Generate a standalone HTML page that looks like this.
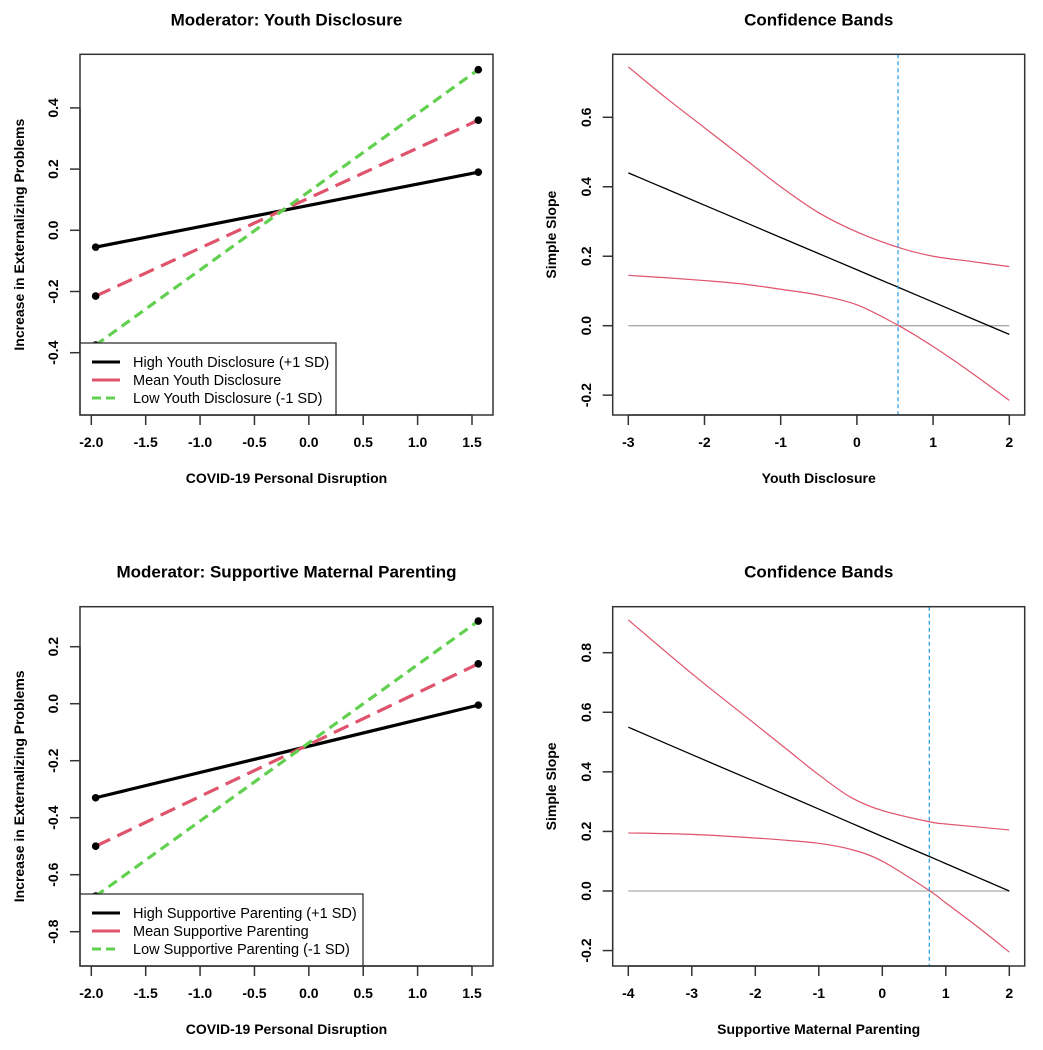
<!DOCTYPE html>
<html><head><meta charset="utf-8">
<style>
html,body{margin:0;padding:0;background:#fff;}
svg{display:block;font-family:"Liberation Sans",Arial,sans-serif;}
.t{font-weight:bold;font-size:17px;}
.tk{font-weight:bold;font-size:14px;}
.at{font-weight:bold;font-size:14px;}
.lg{font-size:14.5px;}
</style></head>
<body>
<svg id="c" width="1043" height="1050" viewBox="0 0 1043 1050" xmlns="http://www.w3.org/2000/svg"></svg>
<script>
// ---- Panel A (top-left) data ----
const aXTicks = [-2.0,-1.5,-1.0,-0.5,0.0,0.5,1.0,1.5];
const aYTicks = [-0.4,-0.2,0.0,0.2,0.4];
const aXEnds = [-1.96, 1.558];
const aHigh = [-0.055, 0.19];
const aMean = [-0.215, 0.36];
const aLow = [-0.375, 0.525];
const aLegend = ["High Youth Disclosure (+1 SD)","Mean Youth Disclosure","Low Youth Disclosure (-1 SD)"];
// ---- Panel B (top-right) data ----
const bXTicks = [-3,-2,-1,0,1,2];
const bYTicks = [-0.2,0.0,0.2,0.4,0.6];
const bX = [-3,-2.5,-2,-1.5,-1,-0.5,0,0.55,1,1.5,2];
const bSlope = [0.44,0.3935,0.347,0.3005,0.254,0.2075,0.161,0.110,0.068,0.0215,-0.025];
const bUpper = [0.745,0.655,0.57,0.485,0.40,0.325,0.27,0.225,0.20,0.185,0.17];
const bLower = [0.145,0.138,0.13,0.12,0.105,0.088,0.06,0.0,-0.06,-0.135,-0.215];
const bJN = 0.54;
// ---- Panel C (bottom-left) data ----
const cXTicks = [-2.0,-1.5,-1.0,-0.5,0.0,0.5,1.0,1.5];
const cYTicks = [-0.8,-0.6,-0.4,-0.2,0.0,0.2];
const cXEnds = [-1.96, 1.558];
const cHigh = [-0.33, -0.005];
const cMean = [-0.50, 0.14];
const cLow = [-0.675, 0.29];
const cLegend = ["High Supportive Parenting (+1 SD)","Mean Supportive Parenting","Low Supportive Parenting (-1 SD)"];
// ---- Panel D (bottom-right) data ----
const dXTicks = [-4,-3,-2,-1,0,1,2];
const dYTicks = [-0.2,0.0,0.2,0.4,0.6,0.8];
const dX = [-4,-3,-2,-1.5,-1,-0.5,0,0.75,1,1.5,2];
const dSlope = [0.55,0.458,0.367,0.321,0.275,0.229,0.183,0.115,0.092,0.046,0.0];
const dUpper = [0.91,0.73,0.56,0.475,0.39,0.315,0.27,0.232,0.225,0.215,0.205];
const dLower = [0.195,0.19,0.178,0.17,0.16,0.14,0.10,0.0,-0.04,-0.12,-0.205];
const dJN = 0.74;

const svg = document.getElementById('c');
const NS = 'http://www.w3.org/2000/svg';
function mk(tag, attrs, parent){
  const e = document.createElementNS(NS, tag);
  for (const k in attrs) e.setAttribute(k, attrs[k]);
  (parent||svg).appendChild(e);
  return e;
}
function lin(d0,d1,r0,r1){return v => r0 + (v-d0)*(r1-r0)/(d1-d0);}
function smoothPath(xs, ys){
  let d = 'M'+xs[0]+','+ys[0];
  for (let i=0;i<xs.length-1;i++){
    const x0=xs[Math.max(i-1,0)], y0=ys[Math.max(i-1,0)];
    const x1=xs[i], y1=ys[i], x2=xs[i+1], y2=ys[i+1];
    const x3=xs[Math.min(i+2,xs.length-1)], y3=ys[Math.min(i+2,xs.length-1)];
    d += ' C'+(x1+(x2-x0)/6)+','+(y1+(y2-y0)/6)+' '+(x2-(x3-x1)/6)+','+(y2-(y3-y1)/6)+' '+x2+','+y2;
  }
  return d;
}
function frame(g, box, xt, yt, sx, sy, xfmt, yfmt, title, xlab, ylab, ylabX, ytickX){
  const t = mk('text',{x:(box.l+box.r)/2,y:box.t-29,'text-anchor':'middle',class:'t'},g);
  t.textContent = title;
  
  
  const xa = mk('g',{},g);
  
  
  mk('line',{x1:sx(xt[0]),x2:sx(xt[xt.length-1]),y1:box.b,y2:box.b,stroke:'#333','stroke-width':1.5},xa);
  xt.forEach(v=>{
    mk('line',{x1:sx(v),x2:sx(v),y1:box.b,y2:box.b+10,stroke:'#333','stroke-width':1.5},xa);
    const l = mk('text',{x:sx(v),y:box.b+32,'text-anchor':'middle',class:'tk'},xa);
    l.textContent = xfmt(v);
    
    
  });
  const ya = mk('g',{},g);
  
  
  mk('line',{x1:box.l,x2:box.l,y1:sy(yt[0]),y2:sy(yt[yt.length-1]),stroke:'#333','stroke-width':1.5},ya);
  yt.forEach(v=>{
    mk('line',{x1:box.l,x2:box.l-10,y1:sy(v),y2:sy(v),stroke:'#333','stroke-width':1.5},ya);
    const l = mk('text',{x:ytickX,y:sy(v),'text-anchor':'middle',class:'tk',transform:'rotate(-90 '+ytickX+' '+sy(v)+')'},ya);
    l.textContent = yfmt(v);
    
    
  });
  const xl = mk('text',{x:(box.l+box.r)/2,y:box.b+68,'text-anchor':'middle',class:'at'},g);
  xl.textContent = xlab;
  
  
  const cy = (box.t+box.b)/2;
  const yl = mk('text',{x:ylabX,y:cy,'text-anchor':'middle',class:'at',transform:'rotate(-90 '+ylabX+' '+cy+')'},g);
  yl.textContent = ylab;
  
  
}
const f1 = v => v.toFixed(1);
const f0 = v => String(v);

function slopesPanel(box, yd, xt, yt, xEnds, hi, me, lo, legend, title, legW){
  const g = mk('g',{});
  
  
  const sx = lin(-2.0,1.5,91.3,472), sy = lin(yd[0],yd[1],yd[2],yd[3]);
  const sxx = v => sx(v) - 91.3 + box.l + 11.3;
  frame(g, box, xt, yt, sxx, sy, f1, f1, title, 'COVID-19 Personal Disruption','Increase in Externalizing Problems', 24, 58);
  const series = [[hi,'#000','none','high-line'],[me,'#DF536B','16 8','mean-line'],[lo,'#61D04F','10 6','low-line']];
  series.forEach(s=>{
    const l = mk('line',{x1:sxx(xEnds[0]),y1:sy(s[0][0]),x2:sxx(xEnds[1]),y2:sy(s[0][1]),stroke:s[1],'stroke-width':3.2,'stroke-dasharray':s[2]},g);
    
    
    [0,1].forEach(i=>{
      const p = mk('circle',{cx:sxx(xEnds[i]),cy:sy(s[0][i]),r:3.8,fill:'#000'},g);
      
      
    });
  });
  const lg = mk('g',{},g);
  
  
  const lt = box.b - 72;
  mk('rect',{x:box.l,y:lt,width:legW,height:72,fill:'#fff',stroke:'#333','stroke-width':1.3},lg);
  series.forEach((s,i)=>{
    const y = lt + 19 + i*18;
    mk('line',{x1:box.l+12,x2:box.l+40,y1:y,y2:y,stroke:s[1],'stroke-width':3,'stroke-dasharray':s[2]==='none'?'none':(i===1?'18 0':'9 5')},lg);
    const t = mk('text',{x:box.l+53,y:y+5,class:'lg'},lg);
    t.textContent = legend[i];
    
    
  });
  mk('rect',{x:box.l,y:box.t,width:box.r-box.l,height:box.b-box.t,fill:'none',stroke:'#333','stroke-width':1.5},g);
}

function bandsPanel(box, xd, yd, xt, yt, xs, sl, up, lo, jn, xlab){
  const g = mk('g',{});
  
  
  const sx = lin(xd[0],xd[1],628.3,1009.3), sy = lin(yd[0],yd[1],yd[2],yd[3]);
  frame(g, box, xt, yt, sx, sy, f0, f1, 'Confidence Bands', xlab, 'Simple Slope', 556, 591);
  const z = mk('line',{x1:sx(xs[0]),x2:sx(xs[xs.length-1]),y1:sy(0),y2:sy(0),stroke:'#aaa','stroke-width':1.3},g);
  
  
  const px = xs.map(sx);
  [[up,'upper-band'],[lo,'lower-band']].forEach(b=>{
    const p = mk('path',{d:smoothPath(px,b[0].map(sy)),fill:'none',stroke:'#DF536B','stroke-width':1.2},g);
    
    
  });
  const s = mk('path',{d:smoothPath(px,sl.map(sy)),fill:'none',stroke:'#000','stroke-width':1.3},g);
  
  
  const v = mk('line',{x1:sx(jn),x2:sx(jn),y1:box.t,y2:box.b,stroke:'#2297E6','stroke-width':1.2,'stroke-dasharray':'4 3'},g);
  
  
  mk('rect',{x:box.l,y:box.t,width:box.r-box.l,height:box.b-box.t,fill:'none',stroke:'#333','stroke-width':1.5},g);
}

slopesPanel({l:80,r:493,t:54.3,b:415}, [0,0.4,230.3,107.9], aXTicks, aYTicks, aXEnds, aHigh, aMean, aLow, aLegend, 'Moderator: Youth Disclosure', 256);
bandsPanel({l:612.7,r:1024.7,t:54.3,b:415}, [-3,2], [0,0.6,325.7,117.3], bXTicks, bYTicks, bX, bSlope, bUpper, bLower, bJN, 'Youth Disclosure');
slopesPanel({l:80,r:493,t:606.7,b:966}, [0,0.2,703.7,646.7], cXTicks, cYTicks, cXEnds, cHigh, cMean, cLow, cLegend, 'Moderator: Supportive Maternal Parenting', 283);
bandsPanel({l:612.7,r:1024.7,t:606.7,b:966}, [-4,2], [0,0.8,891,652.7], dXTicks, dYTicks, dX, dSlope, dUpper, dLower, dJN, 'Supportive Maternal Parenting');
</script>
</body></html>
